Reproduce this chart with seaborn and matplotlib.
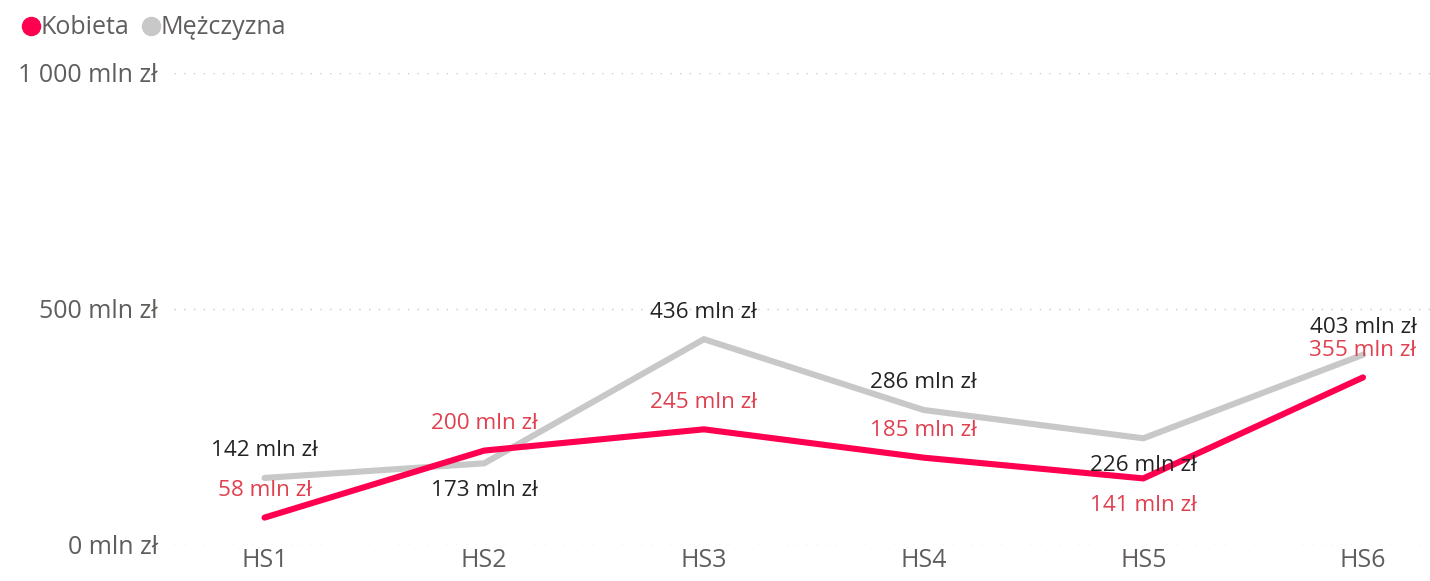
import seaborn as sns
import numpy as np
import pandas as pd
import matplotlib.pyplot as plt
from matplotlib.lines import Line2D

sns.set_style("white")
plt.rcParams['font.family'] = ['Open Sans', 'DejaVu Sans']

# dane
kategorie = ["HS1", "HS2", "HS3", "HS4", "HS5", "HS6"]
kobieta = [58, 200, 245, 185, 141, 355]
mezczyzna = [142, 173, 436, 286, 226, 403]
# położenie etykiet: 1 = nad punktem, -1 = pod punktem
poz_kobieta = [1, 1, 1, 1, -1, 1]
poz_mezczyzna = [1, -1, 1, 1, -1, 1]

serie = ["Kobieta", "Mężczyzna"]
kolory = {"Kobieta": "#FF0050", "Mężczyzna": "#C8C8C8"}
kolory_etykiet = {"Kobieta": "#E0404F", "Mężczyzna": "#252423"}

df = pd.DataFrame({
    "kat": kategorie * 2,
    "x": list(range(len(kategorie))) * 2,
    "wartosc": kobieta + mezczyzna,
    "seria": ["Kobieta"] * 6 + ["Mężczyzna"] * 6,
})


def fmt(v):
    return f"{v:,.0f}".replace(",", " ") + " mln zł"


fig = plt.figure(figsize=(14.3, 5.81), dpi=100)
ax = fig.add_axes([0.122, 0.062, 0.878, 0.8124])

sns.lineplot(data=df, x="x", y="wartosc", hue="seria", hue_order=["Mężczyzna", "Kobieta"],
             palette=kolory, linewidth=4.4, ax=ax, legend=False, clip_on=False)
for line in ax.lines:
    line.set_solid_capstyle("round")
    line.set_solid_joinstyle("miter")

for seria, wart, poz in [("Mężczyzna", mezczyzna, poz_mezczyzna), ("Kobieta", kobieta, poz_kobieta)]:
    for i, (v, p) in enumerate(zip(wart, poz)):
        ax.annotate(fmt(v), (i, v), xytext=(0, 19.5 * p), textcoords="offset points",
                    ha="center", va="center", fontsize=16.2, color=kolory_etykiet[seria],
                    annotation_clip=False)

ax.set_xlim(-0.41, 5.305)
ax.set_ylim(0, 1000)
ax.set_xticks(range(len(kategorie)))
ax.set_xticklabels(kategorie)
ax.set_yticks([0, 500, 1000])
ax.set_yticklabels([fmt(v) for v in [0, 500, 1000]])
ax.tick_params(axis="both", length=0, labelsize=18, labelcolor="#605E5C")
ax.tick_params(axis="x", pad=2)
ax.tick_params(axis="y", pad=12)
ax.set_xlabel("")
ax.set_ylabel("")
for s in ax.spines.values():
    s.set_visible(False)
ax.grid(False)
for y in [0, 500, 1000]:
    ax.axhline(y, color="#C8C8C8", linestyle=(0, (1, 6)), linewidth=1, zorder=0)

handles = [Line2D([], [], marker="o", linestyle="none", markersize=13,
                  markerfacecolor=kolory[s], markeredgecolor=kolory[s]) for s in serie]
fig.legend(handles, serie, loc="upper left", bbox_to_anchor=(0.003, 0.995), ncol=2,
           frameon=False, fontsize=18, labelcolor="#605E5C", handletextpad=-0.15,
           columnspacing=0.3, borderaxespad=0.1, handlelength=1.1)

fig.savefig("out.png", dpi=100)
